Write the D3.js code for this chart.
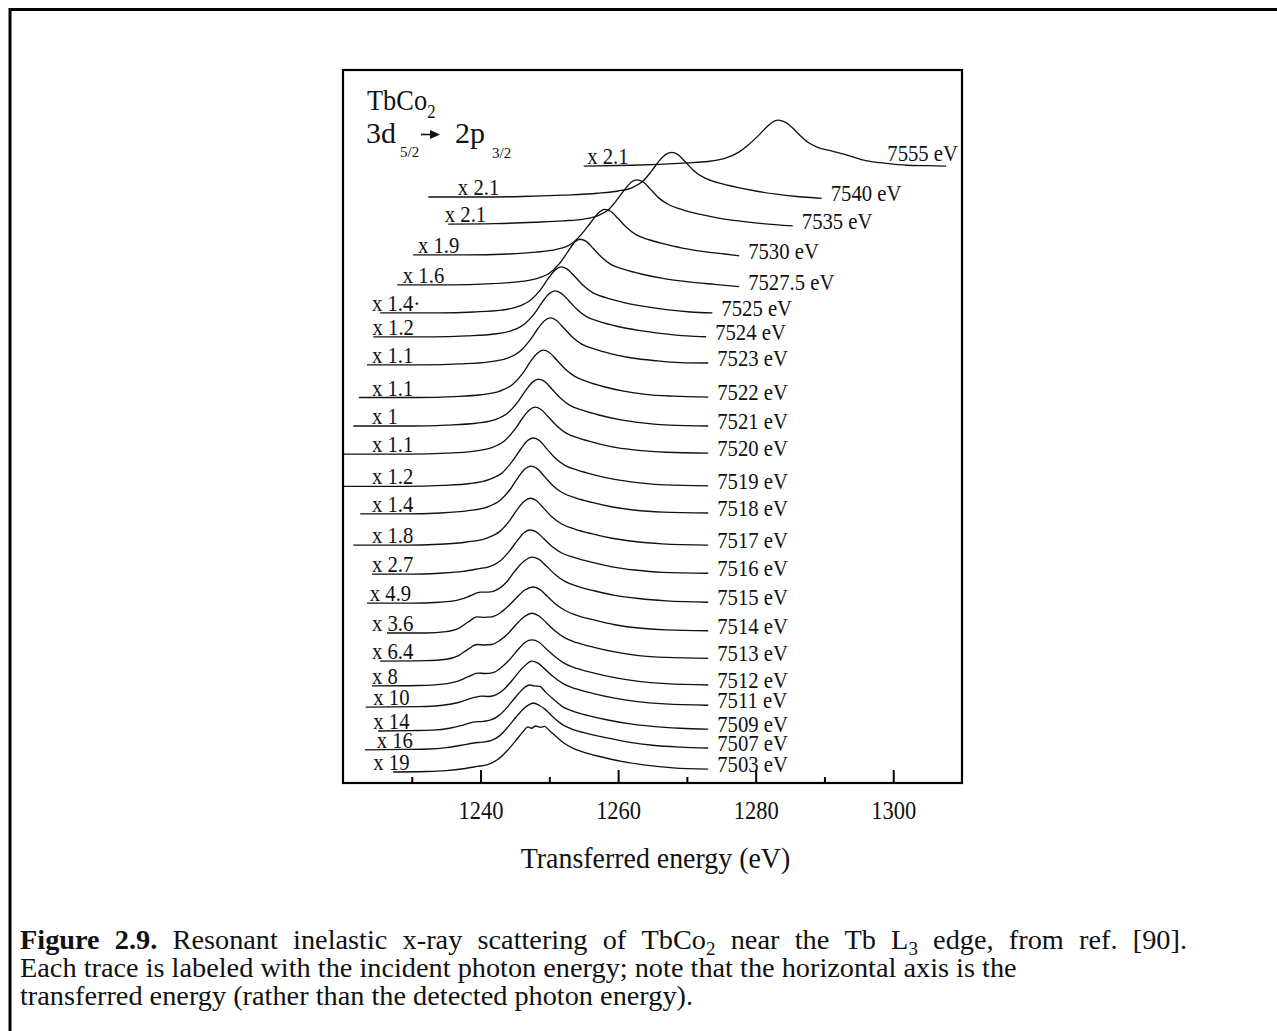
<!DOCTYPE html>
<html>
<head>
<meta charset="utf-8">
<script src="https://cdn.jsdelivr.net/npm/d3@7"></script>
<style>
  html, body { margin: 0; padding: 0; background: #fff; }
  svg { display: block; }
  text { font-family: "Liberation Serif", "Times New Roman", Times, serif; fill: #111; }
</style>
</head>
<body>
<svg id="fig" width="1277" height="1031"></svg>
<script>
// ---- axis ----
const energyDomain = [1220, 1310];
const energyTicks = [1240, 1260, 1280, 1300];
const energyMinorTicks = [1230, 1250, 1270, 1290];

// ---- one entry per spectrum, top to bottom ----
const incidentLabels = ["7555 eV", "7540 eV", "7535 eV", "7530 eV", "7527.5 eV", "7525 eV",
  "7524 eV", "7523 eV", "7522 eV", "7521 eV", "7520 eV", "7519 eV", "7518 eV", "7517 eV",
  "7516 eV", "7515 eV", "7514 eV", "7513 eV", "7512 eV", "7511 eV", "7509 eV", "7507 eV", "7503 eV"];
const scaleFactors = ["x 2.1", "x 2.1", "x 2.1", "x 1.9", "x 1.6", "x 1.4·", "x 1.2", "x 1.1",
  "x 1.1", "x 1", "x 1.1", "x 1.2", "x 1.4", "x 1.8", "x 2.7", "x 4.9", "x 3.6", "x 6.4",
  "x 8", "x 10", "x 14", "x 16", "x 19"];
// vertical offset of each spectrum (intensity units)
const traceOffsets = [13.41, 12.74, 12.15, 11.48, 10.83, 10.22, 9.70, 9.09, 8.38, 7.76, 7.15,
  6.45, 5.85, 5.17, 4.54, 3.91, 3.26, 2.65, 2.11, 1.65, 1.13, 0.72, 0.24];
// transferred energy at which each scale-factor label begins
const factorLabelEnergy = [1255.5, 1236.7, 1234.8, 1230.9, 1228.7, 1224.2, 1224.3, 1224.2,
  1224.2, 1224.2, 1224.2, 1224.2, 1224.2, 1224.2, 1224.2, 1223.9, 1224.2, 1224.2, 1224.2,
  1224.4, 1224.4, 1224.9, 1224.4];

// ---- spectra: [transferred energy (eV), normalised intensity] ----
const s7555 = [[1255.0,0],[1262,0.02],[1266,0.04],[1270,0.07],[1273,0.1],[1275.5,0.17],[1277.5,0.3],[1279,0.47],[1280.5,0.68],[1281.8,0.88],[1282.7,0.98],[1283.3,1.0],[1284.2,0.96],[1285.3,0.84],[1286.5,0.66],[1287.6,0.52],[1289,0.41],[1291,0.33],[1293.5,0.23],[1296,0.12],[1299,0.06],[1302,0.02],[1305,0.01],[1307.7,0]];
const s7540 = [[1232.4,0],[1240,0],[1246,0.01],[1252,0.04],[1257,0.08],[1260,0.13],[1262,0.2],[1263.5,0.33],[1264.8,0.55],[1266,0.79],[1267,0.93],[1267.8,0.97],[1268.7,0.92],[1269.8,0.76],[1271,0.57],[1272.5,0.42],[1274.5,0.31],[1277,0.22],[1280,0.13],[1283,0.06],[1286,0.01],[1289.6,-0.03]];
const s7535 = [[1235.3,0],[1242,0.01],[1248,0.04],[1252,0.07],[1255,0.11],[1257,0.18],[1258.5,0.3],[1259.8,0.52],[1261,0.76],[1262,0.92],[1262.7,0.96],[1263.6,0.92],[1264.7,0.76],[1265.9,0.57],[1267.4,0.42],[1269.4,0.31],[1272,0.21],[1275,0.12],[1278,0.06],[1281,0.01],[1285.4,-0.04]];
const s7530 = [[1230.2,0],[1238,0],[1244,0.02],[1248,0.06],[1251,0.12],[1253,0.22],[1254.5,0.42],[1256,0.7],[1257.2,0.92],[1258,0.99],[1258.9,0.95],[1260,0.79],[1261.2,0.6],[1262.6,0.44],[1264.5,0.33],[1267,0.23],[1270,0.13],[1273,0.06],[1275.5,0.02],[1277.6,-0.02]];
const s7527 = [[1227.9,0],[1236,0],[1241,0.02],[1245,0.06],[1248,0.13],[1250,0.25],[1251.4,0.45],[1252.7,0.72],[1253.7,0.93],[1254.4,0.99],[1255.3,0.95],[1256.4,0.79],[1257.6,0.6],[1259,0.44],[1261,0.33],[1263.5,0.23],[1266.5,0.14],[1270,0.07],[1274,0.01],[1277.6,-0.04]];
const s7525 = [[1225.4,0],[1234,0],[1239,0.02],[1243,0.06],[1245.5,0.14],[1247.3,0.28],[1248.7,0.5],[1249.9,0.76],[1250.9,0.94],[1251.7,1.0],[1252.6,0.95],[1253.7,0.79],[1254.9,0.6],[1256.3,0.44],[1258.2,0.33],[1260.7,0.23],[1263.8,0.14],[1267,0.07],[1270.5,0.02],[1273.7,0]];
const s7524 = [[1224.4,0],[1233,0],[1238,0.02],[1242,0.06],[1244.6,0.14],[1246.4,0.28],[1247.8,0.5],[1249,0.76],[1250,0.94],[1250.8,1.0],[1251.7,0.95],[1252.8,0.79],[1254,0.6],[1255.4,0.44],[1257.3,0.33],[1259.8,0.23],[1263,0.14],[1266.5,0.07],[1270,0.02],[1272.8,0]];
const s7523 = [[1223.5,0],[1232,0],[1237,0.02],[1241,0.06],[1243.8,0.14],[1245.7,0.29],[1247.1,0.52],[1248.3,0.78],[1249.3,0.96],[1250.1,1.02],[1251,0.97],[1252.1,0.8],[1253.3,0.61],[1254.7,0.45],[1256.6,0.34],[1259,0.24],[1262,0.15],[1265.5,0.09],[1269,0.05],[1273.1,0.04]];
const s7522 = [[1222.3,0],[1231,0],[1236,0.02],[1240,0.06],[1242.8,0.14],[1244.7,0.29],[1246.1,0.52],[1247.3,0.79],[1248.3,0.97],[1249.1,1.03],[1250,0.98],[1251.1,0.81],[1252.3,0.62],[1253.7,0.46],[1255.6,0.34],[1257.8,0.24],[1260.8,0.14],[1264,0.07],[1268,0.03],[1273.1,0.01]];
const s7521 = [[1221.5,0],[1230,0],[1235,0.02],[1239.3,0.06],[1242.1,0.14],[1244,0.29],[1245.4,0.52],[1246.6,0.78],[1247.6,0.96],[1248.4,1.02],[1249.3,0.97],[1250.4,0.8],[1251.6,0.61],[1253,0.45],[1254.9,0.34],[1257.2,0.24],[1260.2,0.14],[1263.5,0.07],[1267.5,0.02],[1273.1,0]];
const s7520 = [[1220,0],[1230,0],[1235,0.02],[1238.8,0.06],[1241.6,0.14],[1243.5,0.29],[1244.9,0.52],[1246.1,0.78],[1247.1,0.96],[1247.9,1.02],[1248.8,0.97],[1249.9,0.8],[1251.1,0.61],[1252.5,0.45],[1254.4,0.34],[1256.8,0.24],[1259.8,0.14],[1263,0.08],[1267,0.04],[1273.1,0.02]];
const s7519 = [[1220,0],[1229,0],[1234.5,0.02],[1238.5,0.06],[1241.3,0.15],[1243.2,0.3],[1244.6,0.54],[1245.8,0.8],[1246.8,0.99],[1247.6,1.05],[1248.5,1.0],[1249.6,0.82],[1250.8,0.62],[1252.2,0.46],[1254.1,0.35],[1256.5,0.25],[1259.5,0.15],[1262.8,0.08],[1266.8,0.03],[1273.1,0.01]];
const s7518 = [[1222.5,0],[1229,0],[1234.2,0.02],[1238.2,0.07],[1241,0.15],[1242.9,0.3],[1244.3,0.53],[1245.5,0.8],[1246.5,0.98],[1247.3,1.04],[1248.2,0.99],[1249.3,0.81],[1250.5,0.62],[1251.9,0.46],[1253.8,0.35],[1256.2,0.25],[1259.2,0.15],[1262.5,0.08],[1266.5,0.04],[1273.1,0.02]];
const s7517 = [[1221.5,0],[1229,0],[1234,0.02],[1238,0.07],[1240.8,0.15],[1242.8,0.3],[1244.2,0.53],[1245.4,0.79],[1246.4,0.96],[1247.2,1.02],[1248.1,0.97],[1249.2,0.8],[1250.4,0.61],[1251.8,0.46],[1253.7,0.35],[1256.1,0.25],[1259.1,0.15],[1262.4,0.08],[1266.4,0.03],[1273.1,0]];
const s7516 = [[1224.2,0],[1230,0],[1234,0.02],[1237.5,0.06],[1239.8,0.12],[1241.2,0.16],[1242.8,0.28],[1244.2,0.5],[1245.4,0.74],[1246.4,0.91],[1247.2,0.96],[1248.1,0.92],[1249.2,0.77],[1250.4,0.6],[1251.8,0.46],[1253.7,0.36],[1256.1,0.26],[1259.1,0.16],[1262.4,0.09],[1266.4,0.04],[1273.1,0.02]];
const s7515 = [[1223.5,0],[1230,0],[1234,0.02],[1236.5,0.06],[1238.4,0.15],[1240,0.24],[1241.2,0.24],[1242.5,0.3],[1243.8,0.46],[1245,0.7],[1246.3,0.91],[1247.5,1.0],[1248.5,0.95],[1249.6,0.8],[1250.8,0.63],[1252.2,0.48],[1254,0.37],[1256.5,0.27],[1259.5,0.17],[1263,0.1],[1267,0.05],[1273.1,0.02]];
const s7514 = [[1226.4,0],[1232,0],[1235,0.03],[1236.8,0.1],[1238.2,0.24],[1239.5,0.35],[1240.6,0.34],[1241.6,0.35],[1242.8,0.43],[1244,0.58],[1245.3,0.78],[1246.5,0.94],[1247.6,1.0],[1248.6,0.95],[1249.7,0.8],[1250.9,0.63],[1252.3,0.49],[1254.1,0.38],[1256.6,0.28],[1259.5,0.18],[1263,0.11],[1267,0.07],[1273.1,0.05]];
const s7513 = [[1225.4,0],[1232,0.01],[1235,0.04],[1236.8,0.12],[1238.2,0.26],[1239.5,0.36],[1240.6,0.35],[1241.6,0.36],[1242.8,0.45],[1244,0.6],[1245.2,0.8],[1246.4,0.97],[1247.5,1.04],[1248.5,0.98],[1249.6,0.83],[1250.8,0.66],[1252.2,0.51],[1254,0.4],[1256.5,0.3],[1259.5,0.2],[1263,0.12],[1267,0.08],[1273.1,0.06]];
const s7512 = [[1224.2,0],[1231,0.01],[1234.5,0.04],[1236.6,0.1],[1238.2,0.2],[1239.6,0.28],[1240.7,0.27],[1241.8,0.29],[1243,0.4],[1244.2,0.57],[1245.4,0.78],[1246.5,0.95],[1247.5,1.0],[1248.5,0.95],[1249.6,0.8],[1250.8,0.64],[1252.2,0.49],[1254,0.38],[1256.5,0.28],[1259.5,0.18],[1263,0.1],[1267,0.05],[1273.1,0.02]];
const s7511 = [[1223.3,0],[1231,0.01],[1234.5,0.04],[1236.8,0.1],[1238.6,0.19],[1240.1,0.24],[1241.2,0.23],[1242.3,0.27],[1243.5,0.4],[1244.7,0.6],[1245.9,0.82],[1246.9,0.96],[1247.4,1.0],[1248.3,0.96],[1249.4,0.82],[1250.6,0.66],[1252,0.51],[1253.8,0.4],[1256.3,0.3],[1259.3,0.2],[1262.8,0.12],[1266.8,0.07],[1273.1,0.04]];
const s7509 = [[1225.1,0],[1230,0.01],[1233,0.02],[1235.5,0.06],[1237.5,0.13],[1239.2,0.2],[1240.4,0.21],[1241.5,0.24],[1242.7,0.34],[1243.9,0.52],[1245.1,0.74],[1246.2,0.92],[1247.1,1.0],[1247.8,0.98],[1248.6,0.97],[1249.5,0.84],[1250.6,0.69],[1251.9,0.53],[1253.6,0.42],[1255.8,0.33],[1258.5,0.24],[1261.5,0.16],[1265,0.1],[1269,0.06],[1273.1,0.04]];
const s7507 = [[1223.2,0],[1229,0.01],[1232.5,0.02],[1235,0.05],[1237.2,0.1],[1239,0.15],[1240.3,0.17],[1241.5,0.2],[1242.8,0.31],[1244,0.5],[1245.2,0.72],[1246.3,0.9],[1247,0.98],[1247.7,1.02],[1248.5,0.97],[1249.4,0.88],[1250.5,0.72],[1251.8,0.56],[1253.5,0.44],[1255.7,0.35],[1258.4,0.26],[1261.5,0.17],[1265,0.1],[1269,0.06],[1273.1,0.04]];
const s7503 = [[1227.3,0],[1232,0.01],[1235,0.03],[1237.5,0.07],[1239.5,0.12],[1241,0.16],[1242.5,0.27],[1243.8,0.45],[1245,0.66],[1246.1,0.86],[1246.9,0.98],[1247.4,0.95],[1248,1.0],[1248.7,0.97],[1249.3,0.99],[1250,0.9],[1250.9,0.78],[1252,0.64],[1253.4,0.52],[1255.2,0.42],[1257.5,0.33],[1260.5,0.23],[1264,0.15],[1268,0.09],[1273.1,0.06]];
const spectra = [s7555, s7540, s7535, s7530, s7527, s7525, s7524, s7523, s7522, s7521, s7520,
  s7519, s7518, s7517, s7516, s7515, s7514, s7513, s7512, s7511, s7509, s7507, s7503];

// ---- layout ----
const W = 1277, H = 1031;
const plot = { left: 343, top: 70, right: 962, bottom: 783 };
const ink = "#111";
const serif = '"Liberation Serif", "Times New Roman", Times, serif';

const svg = d3.select("#fig");

// outer figure frame (runs off the page on the right and bottom)
svg.append("path")
  .attr("d", `M10,${H + 5} V9.5 H${W + 5}`)
  .attr("fill", "none").attr("stroke", "#000").attr("stroke-width", 3);

const x = d3.scaleLinear().domain(energyDomain).range([plot.left, plot.right]);
const y = d3.scaleLinear().domain([0, 15.5]).range([plot.bottom, plot.top]);

// condensed serif text helper
function ctext(sel, px, py, str, size, sx, anchor) {
  return sel.append("text")
    .attr("transform", `translate(${px},${py}) scale(${sx},1)`)
    .attr("font-size", size)
    .attr("text-anchor", anchor || "start")
    .text(str);
}

// ---- spectra ----
const line = d3.line()
  .x(d => x(d[0]))
  .y(d => d[1])
  .curve(d3.curveMonotoneX);

const gTraces = svg.append("g");
spectra.forEach((pts, i) => {
  const off = traceOffsets[i];
  gTraces.append("path")
    .attr("d", line(pts.map(p => [p[0], y(off + p[1])])))
    .attr("fill", "none")
    .attr("stroke", ink)
    .attr("stroke-width", 1.35)
    .attr("stroke-linejoin", "round");
});

// ---- labels: scale factor on the left, incident energy on the right ----
const gLabels = svg.append("g");
const labelSize = 23, labelSx = 0.9;
spectra.forEach((pts, i) => {
  const off = traceOffsets[i];
  // scale factor sits on the flat start of the trace
  ctext(gLabels, x(factorLabelEnergy[i]), y(off) - 2, scaleFactors[i], labelSize, labelSx);

  const last = pts[pts.length - 1];
  const ex = x(last[0]), ey = y(off + last[1]);
  const t = ctext(gLabels, ex + 9, ey + 3, incidentLabels[i], labelSize, labelSx);
  const w = t.node().getBBox().width * labelSx;
  if (ex + 9 + w > plot.right - 2) {
    // no room to the right: set it above the line end instead
    t.attr("transform", `translate(${plot.right - 4},${ey - 5}) scale(${labelSx},1)`)
     .attr("text-anchor", "end");
  }
});

// ---- frame and ticks ----
svg.append("rect")
  .attr("x", plot.left).attr("y", plot.top)
  .attr("width", plot.right - plot.left).attr("height", plot.bottom - plot.top)
  .attr("fill", "none").attr("stroke", "#000").attr("stroke-width", 2.2);

const axisMajor = d3.axisBottom(x).tickValues(energyTicks).tickSizeInner(-13).tickSizeOuter(0)
  .tickPadding(18).tickFormat(d3.format("d"));
const gAxis = svg.append("g").attr("transform", `translate(0,${plot.bottom})`).call(axisMajor);
gAxis.select(".domain").remove();
gAxis.selectAll(".tick line").attr("stroke", "#000").attr("stroke-width", 2);
gAxis.selectAll(".tick text")
  .attr("font-family", serif).attr("font-size", 25).attr("fill", ink)
  .attr("transform", "scale(0.9,1)");

const axisMinor = d3.axisBottom(x).tickValues(energyMinorTicks).tickSizeInner(-6).tickSizeOuter(0)
  .tickFormat("");
const gMinor = svg.append("g").attr("transform", `translate(0,${plot.bottom})`).call(axisMinor);
gMinor.select(".domain").remove();
gMinor.selectAll(".tick line").attr("stroke", "#000").attr("stroke-width", 2);

ctext(svg, (plot.left + plot.right) / 2 + 3, 868, "Transferred energy (eV)", 30, 0.93, "middle");

// ---- sample / transition annotation ----
const gNote = svg.append("g");
const t1 = gNote.append("text")
  .attr("transform", "translate(367,110) scale(0.88,1)")
  .attr("font-size", 30);
t1.append("tspan").text("TbCo");
t1.append("tspan").attr("font-size", 19).attr("dy", 8).text("2");

ctext(gNote, 366, 143, "3d", 30, 1.0);
ctext(gNote, 400, 157, "5/2", 15, 1.0);
ctext(gNote, 455, 143, "2p", 30, 1.0);
ctext(gNote, 492, 158, "3/2", 15, 1.0);
// transition arrow
gNote.append("path").attr("d", "M421,134.5 H432").attr("stroke", ink).attr("stroke-width", 1.6);
gNote.append("path").attr("d", "M440,134.5 L430,130 L430,139 Z").attr("fill", ink);

// ---- caption ----
const capSize = 28.3, capLeft = 20, capRight = 1187;
const gCap = svg.append("g").attr("font-size", capSize);

// first line: words set one by one and spread out to the right margin
const capWords = ["Figure", "2.9.", "Resonant", "inelastic", "x-ray", "scattering", "of",
  "TbCo_2", "near", "the", "Tb", "L_3", "edge,", "from", "ref.", "[90]."];
const wordNodes = capWords.map((wd, i) => {
  const [main, sub] = wd.split("_");
  const t = gCap.append("text").attr("y", 949).attr("fill", "#000");
  const m = t.append("tspan").text(main);
  if (i < 2) m.attr("font-weight", "bold");
  if (sub) t.append("tspan").attr("font-size", 19).attr("dy", 6).text(sub);
  return t;
});
const widths = wordNodes.map(t => t.node().getComputedTextLength());
const gap = (capRight - capLeft - d3.sum(widths)) / (capWords.length - 1);
let cx = capLeft;
wordNodes.forEach((t, i) => { t.attr("x", cx); cx += widths[i] + gap; });

gCap.append("text").attr("x", capLeft).attr("y", 977).attr("fill", "#000")
  .text("Each trace is labeled with the incident photon energy; note that the horizontal axis is the");
gCap.append("text").attr("x", capLeft).attr("y", 1005).attr("fill", "#000")
  .text("transferred energy (rather than the detected photon energy).");
</script>
</body>
</html>
